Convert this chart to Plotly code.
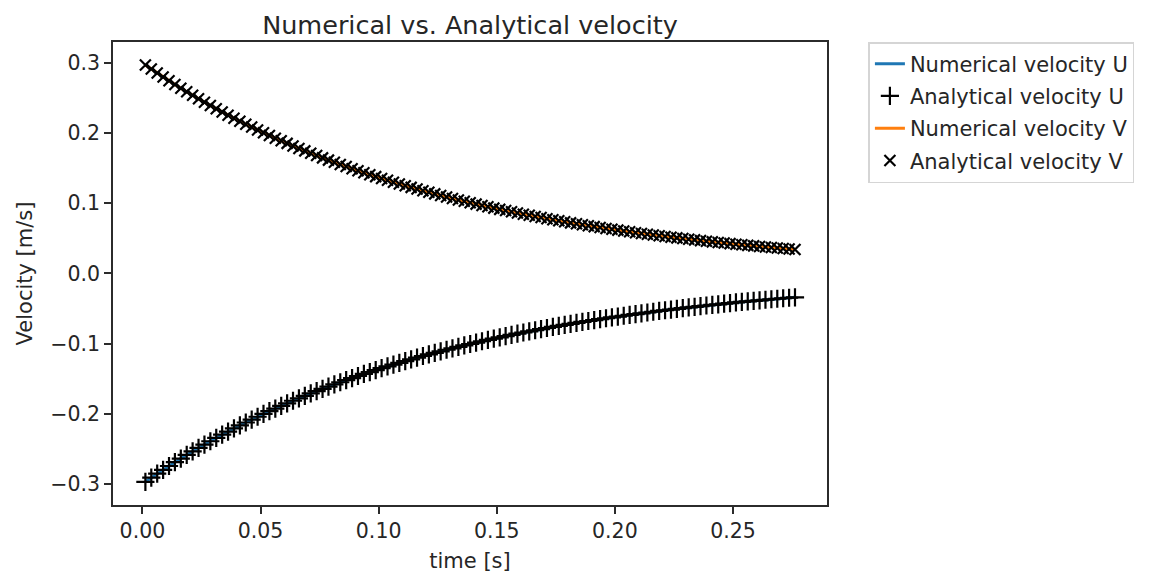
import plotly.graph_objects as go

# time samples [s]
time = [
    0.00125, 0.00375, 0.00625, 0.00875, 0.01125, 0.01375, 0.01625, 0.01875, 0.02125, 0.02375,
    0.02625, 0.02875, 0.03125, 0.03375, 0.03625, 0.03875, 0.04125, 0.04375, 0.04625, 0.04875,
    0.05125, 0.05375, 0.05625, 0.05875, 0.06125, 0.06375, 0.06625, 0.06875, 0.07125, 0.07375,
    0.07625, 0.07875, 0.08125, 0.08375, 0.08625, 0.08875, 0.09125, 0.09375, 0.09625, 0.09875,
    0.10125, 0.10375, 0.10625, 0.10875, 0.11125, 0.11375, 0.11625, 0.11875, 0.12125, 0.12375,
    0.12625, 0.12875, 0.13125, 0.13375, 0.13625, 0.13875, 0.14125, 0.14375, 0.14625, 0.14875,
    0.15125, 0.15375, 0.15625, 0.15875, 0.16125, 0.16375, 0.16625, 0.16875, 0.17125, 0.17375,
    0.17625, 0.17875, 0.18125, 0.18375, 0.18625, 0.18875, 0.19125, 0.19375, 0.19625, 0.19875,
    0.20125, 0.20375, 0.20625, 0.20875, 0.21125, 0.21375, 0.21625, 0.21875, 0.22125, 0.22375,
    0.22625, 0.22875, 0.23125, 0.23375, 0.23625, 0.23875, 0.24125, 0.24375, 0.24625, 0.24875,
    0.25125, 0.25375, 0.25625, 0.25875, 0.26125, 0.26375, 0.26625, 0.26875, 0.27125, 0.27375,
    0.27625,
]

# velocity V [m/s]
velocity_v = [
    0.2971, 0.2913, 0.2856, 0.2800, 0.2746, 0.2692, 0.2640, 0.2588, 0.2538, 0.2489,
    0.2440, 0.2393, 0.2346, 0.2300, 0.2255, 0.2211, 0.2168, 0.2126, 0.2085, 0.2044,
    0.2004, 0.1965, 0.1927, 0.1889, 0.1853, 0.1816, 0.1781, 0.1746, 0.1712, 0.1679,
    0.1646, 0.1614, 0.1583, 0.1552, 0.1522, 0.1492, 0.1463, 0.1434, 0.1407, 0.1379,
    0.1352, 0.1326, 0.1300, 0.1275, 0.1250, 0.1226, 0.1202, 0.1178, 0.1155, 0.1133,
    0.1111, 0.1089, 0.1068, 0.1047, 0.1027, 0.1007, 0.0987, 0.0968, 0.0949, 0.0930,
    0.0912, 0.0895, 0.0877, 0.0860, 0.0843, 0.0827, 0.0811, 0.0795, 0.0779, 0.0764,
    0.0749, 0.0735, 0.0720, 0.0706, 0.0693, 0.0679, 0.0666, 0.0653, 0.0640, 0.0628,
    0.0616, 0.0604, 0.0592, 0.0580, 0.0569, 0.0558, 0.0547, 0.0536, 0.0526, 0.0516,
    0.0506, 0.0496, 0.0486, 0.0477, 0.0467, 0.0458, 0.0449, 0.0441, 0.0432, 0.0424,
    0.0415, 0.0407, 0.0399, 0.0392, 0.0384, 0.0376, 0.0369, 0.0362, 0.0355, 0.0348,
    0.0341,
]

# velocity U [m/s]
velocity_u = [
    -0.2971, -0.2913, -0.2856, -0.2800, -0.2746, -0.2692, -0.2640, -0.2588, -0.2538, -0.2489,
    -0.2440, -0.2393, -0.2346, -0.2300, -0.2255, -0.2211, -0.2168, -0.2126, -0.2085, -0.2044,
    -0.2004, -0.1965, -0.1927, -0.1889, -0.1853, -0.1816, -0.1781, -0.1746, -0.1712, -0.1679,
    -0.1646, -0.1614, -0.1583, -0.1552, -0.1522, -0.1492, -0.1463, -0.1434, -0.1407, -0.1379,
    -0.1352, -0.1326, -0.1300, -0.1275, -0.1250, -0.1226, -0.1202, -0.1178, -0.1155, -0.1133,
    -0.1111, -0.1089, -0.1068, -0.1047, -0.1027, -0.1007, -0.0987, -0.0968, -0.0949, -0.0930,
    -0.0912, -0.0895, -0.0877, -0.0860, -0.0843, -0.0827, -0.0811, -0.0795, -0.0779, -0.0764,
    -0.0749, -0.0735, -0.0720, -0.0706, -0.0693, -0.0679, -0.0666, -0.0653, -0.0640, -0.0628,
    -0.0616, -0.0604, -0.0592, -0.0580, -0.0569, -0.0558, -0.0547, -0.0536, -0.0526, -0.0516,
    -0.0506, -0.0496, -0.0486, -0.0477, -0.0467, -0.0458, -0.0449, -0.0441, -0.0432, -0.0424,
    -0.0415, -0.0407, -0.0399, -0.0392, -0.0384, -0.0376, -0.0369, -0.0362, -0.0355, -0.0348,
    -0.0341,
]

x_ticks = [0.00, 0.05, 0.10, 0.15, 0.20, 0.25]
y_ticks = [-0.3, -0.2, -0.1, 0.0, 0.1, 0.2, 0.3]

FONT = "DejaVu Sans"
TXT = "#262626"

fig = go.Figure()
fig.add_trace(go.Scatter(
    x=time, y=velocity_u, mode="lines", name="Numerical velocity U",
    legendgroup="g1", line=dict(color="#1f77b4", width=3),
))
fig.add_trace(go.Scatter(
    x=time, y=velocity_u, mode="markers", name="Analytical velocity U",
    legendgroup="g2",
    marker=dict(symbol="cross-thin", size=13, color="black",
                line=dict(color="black", width=2.2)),
))
fig.add_trace(go.Scatter(
    x=time, y=velocity_v, mode="lines", name="Numerical velocity V",
    legendgroup="g3", line=dict(color="#ff7f0e", width=3),
))
fig.add_trace(go.Scatter(
    x=time, y=velocity_v, mode="markers", name="Analytical velocity V",
    legendgroup="g4",
    marker=dict(symbol="x-thin", size=11, color="black",
                line=dict(color="black", width=2.2)),
))

axis_common = dict(
    showgrid=False, zeroline=False, showline=True, linecolor="#2b2b2b",
    linewidth=1.6, mirror=True, ticks="outside", ticklen=7, tickwidth=1.6,
    tickcolor="#2b2b2b", tickfont=dict(family=FONT, size=20.5, color=TXT),
)

# the page body adds an 8 px offset, so margins are shifted accordingly
fig.update_layout(
    width=1159, height=573,
    margin=dict(l=105, r=340, t=34, b=66),
    paper_bgcolor="white", plot_bgcolor="white",
    font=dict(family=FONT, size=21, color=TXT),
    title=dict(text="Numerical vs. Analytical velocity", x=0.5, xref="paper",
               xanchor="center", y=1, yref="paper", yanchor="bottom",
               pad=dict(b=8), font=dict(family=FONT, size=25.5, color=TXT)),
    xaxis=dict(range=[-0.01246, 0.2898], tickvals=x_ticks, tickformat=".2f",
               title=dict(text="time [s]", font=dict(family=FONT, size=21, color=TXT), standoff=11),
               **axis_common),
    yaxis=dict(range=[-0.3302, 0.3298], tickvals=y_ticks, tickformat=".1f",
               title=dict(text="Velocity [m/s]", font=dict(family=FONT, size=21, color=TXT), standoff=12),
               **axis_common),
    legend=dict(x=1.058, y=1.0, xanchor="left", yanchor="top",
                bgcolor="white", bordercolor="#d5d5d5", borderwidth=1.5,
                font=dict(family=FONT, size=21, color=TXT),
                tracegroupgap=2),
    showlegend=True,
)

fig.write_html("out.html")
